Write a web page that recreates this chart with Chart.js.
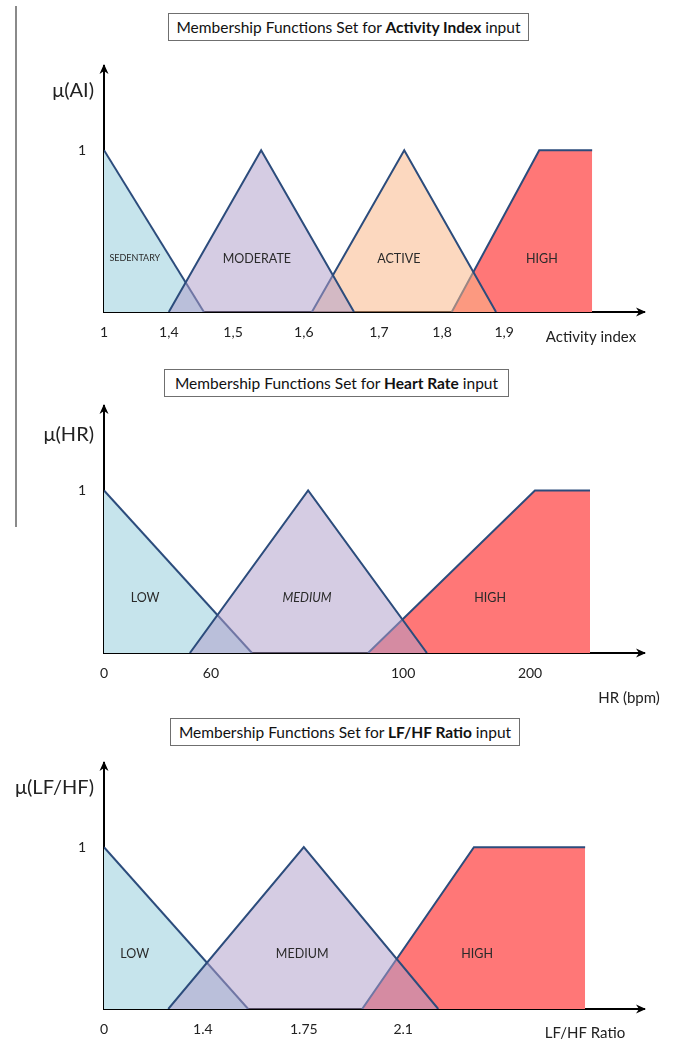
<!DOCTYPE html>
<html>
<head>
<meta charset="utf-8">
<script src="https://cdn.jsdelivr.net/npm/chart.js@4.4.1/dist/chart.umd.min.js"></script>
<style>
  body { margin: 0; background: #fff; font-family: Lato, sans-serif; }
  #page { position: relative; width: 676px; height: 1044px; overflow: hidden; }
  canvas { position: absolute; left: 0; }
  .titre { position: absolute; border: 1px solid #6f6f6f; box-sizing: border-box; height: 28px; line-height: 26px;
           text-align: center; font-size: 15.5px; color: #111; white-space: nowrap; background: #fff; z-index: 2 }
  #bord { position: absolute; left: 15px; top: 6px; width: 2px; height: 521px; background: #8a8a8a }
</style>
</head>
<body>
<div id="page">
  <div id="bord"></div>
  <div class="titre" style="left:168px;top:13px;width:361px">Membership Functions Set for <b>Activity Index</b> input</div>
  <div class="titre" style="left:164px;top:369px;width:345px">Membership Functions Set for <b>Heart Rate</b> input</div>
  <div class="titre" style="left:170px;top:718px;width:350px">Membership Functions Set for <b>LF/HF Ratio</b> input</div>
  <canvas id="c1" width="676" height="350" style="top:0px"></canvas>
  <canvas id="c2" width="676" height="360" style="top:350px"></canvas>
  <canvas id="c3" width="676" height="334" style="top:710px"></canvas>
</div>
<script>
// x axis is a schematic axis: 0 = vertical axis, 100 = arrow tip
// Activity index
let aiTickPos = [0, 12, 23.9, 37, 50.9, 62.6, 74.1]
let aiTickLabels = ['1', '1,4', '1,5', '1,6', '1,7', '1,8', '1,9']
let aiNames = ['SEDENTARY', 'MODERATE', 'ACTIVE', 'HIGH']
let aiSedentary = [[0, 1], [18.5, 0]]
let aiModerate = [[12, 0], [29.1, 1], [46.3, 0]]
let aiActive = [[38.5, 0], [55.6, 1], [72.6, 0]]
let aiHigh = [[64.4, 0], [80.6, 1], [90.4, 1]]

// Heart rate
let hrTickPos = [0, 19.8, 55.4, 78.9]
let hrTickLabels = ['0', '60', '100', '200']
let hrNames = ['LOW', 'MEDIUM', 'HIGH']
let hrLow = [[0, 1], [27.4, 0]]
let hrMedium = [[15.9, 0], [37.8, 1], [59.8, 0]]
let hrHigh = [[48.9, 0], [79.8, 1], [90, 1]]

// LF/HF ratio
let lfTickPos = [0, 18.3, 37, 55.4]
let lfTickLabels = ['0', '1.4', '1.75', '2.1']
let lfNames = ['LOW', 'MEDIUM', 'HIGH']
let lfLow = [[0, 1], [26.7, 0]]
let lfMedium = [[11.9, 0], [37, 1], [61.9, 0]]
let lfHigh = [[47.8, 0], [68.5, 1], [89.1, 1]]

let ligne = '#2c4c7c'
let bleu = '#c6e4ec'
let violet = 'rgba(174,157,201,0.52)'
let peche = 'rgba(249,183,136,0.54)'
let rouge = '#ff7777'

Chart.defaults.font.family = 'Lato, sans-serif'

// one dataset = one membership function, filled down to 0
function jeu(label, pts, fond, ordre) {
  return {
    label: label,
    data: pts.map(p => ({ x: p[0], y: p[1] })),
    fill: 'origin',
    backgroundColor: fond,
    borderColor: ligne,
    borderWidth: 2,
    pointRadius: 0,
    tension: 0,
    order: ordre
  }
}

// arrows, axis titles and the names inside the shapes
let decor = {
  id: 'decor',
  afterDraw(chart, args, o) {
    let ctx = chart.ctx
    let a = chart.chartArea
    let x = chart.scales.x
    let y = chart.scales.y
    ctx.save()
    ctx.fillStyle = '#000'
    ctx.beginPath()
    ctx.moveTo(a.left, a.top - 2)
    ctx.lineTo(a.left - 4.5, a.top + 8)
    ctx.lineTo(a.left, a.top + 5)
    ctx.lineTo(a.left + 4.5, a.top + 8)
    ctx.closePath()
    ctx.fill()
    ctx.beginPath()
    ctx.moveTo(a.right + 2, a.bottom)
    ctx.lineTo(a.right - 8, a.bottom - 4.5)
    ctx.lineTo(a.right - 5, a.bottom)
    ctx.lineTo(a.right - 8, a.bottom + 4.5)
    ctx.closePath()
    ctx.fill()

    ctx.fillStyle = '#222'
    ctx.textBaseline = 'middle'
    ctx.textAlign = 'right'
    ctx.font = '20px Lato, sans-serif'
    ctx.fillText(o.yTitle, a.left - 10, a.top + o.yTitleDy)
    ctx.textAlign = 'center'
    ctx.font = '15px Lato, sans-serif'
    ctx.fillText(o.xTitle, o.xTitleX, a.bottom + o.xTitleDy)

    ctx.fillStyle = '#2a2a2a'
    o.names.forEach((n, i) => {
      let taille = o.sizes ? o.sizes[i] : 12.5
      ctx.font = (o.italic && o.italic[i] ? 'italic ' : '') + taille + 'px Lato, sans-serif'
      ctx.fillText(n, x.getPixelForValue(o.nameX[i]), y.getPixelForValue(o.nameY))
    })
    ctx.restore()
  }
}

function graphe(id, sets, tickPos, tickLabels, pad, deco) {
  return new Chart(document.getElementById(id), {
    type: 'line',
    data: { datasets: sets },
    options: {
      responsive: false,
      animation: false,
      layout: { padding: pad },
      plugins: { legend: { display: false }, tooltip: { enabled: false }, decor: deco },
      scales: {
        x: {
          type: 'linear', min: 0, max: 100,
          grid: { display: false, drawTicks: false },
          border: { display: true, color: '#000', width: 2 },
          afterFit: s => { s.height = 30 },
          afterBuildTicks: s => { s.ticks = tickPos.map(v => ({ value: v })) },
          ticks: {
            autoSkip: false, maxRotation: 0, padding: 12, color: '#222',
            font: { size: 14 },
            callback: (v, i) => tickLabels[i]
          }
        },
        y: {
          min: 0, max: 1.52,
          grid: { display: false, drawTicks: false },
          border: { display: true, color: '#000', width: 2 },
          afterFit: s => { s.width = 40 },
          afterBuildTicks: s => { s.ticks = [{ value: 1 }] },
          ticks: { padding: 18, color: '#222', font: { size: 14 }, callback: () => '1' }
        }
      }
    },
    plugins: [decor]
  })
}

graphe('c1', [
  jeu('MODERATE', aiModerate, violet, 0),
  jeu('ACTIVE', aiActive, peche, 1),
  jeu('SEDENTARY', aiSedentary, bleu, 2),
  jeu('HIGH', aiHigh, rouge, 3)
], aiTickPos, aiTickLabels, { left: 64, right: 32, top: 66, bottom: 8 }, {
  yTitle: 'μ(AI)', yTitleDy: 25, xTitle: 'Activity index', xTitleX: 591, xTitleDy: 25,
  names: aiNames, nameX: [5.7, 28.3, 54.6, 81.1], nameY: 0.33, sizes: [9, 12.5, 12.5, 12.5]
})

graphe('c2', [
  jeu('MEDIUM', hrMedium, violet, 0),
  jeu('LOW', hrLow, bleu, 1),
  jeu('HIGH', hrHigh, rouge, 2)
], hrTickPos, hrTickLabels, { left: 64, right: 32, top: 56, bottom: 27 }, {
  yTitle: 'μ(HR)', yTitleDy: 29, xTitle: 'HR (bpm)', xTitleX: 629, xTitleDy: 45,
  names: hrNames, nameX: [7.6, 37.6, 71.5], nameY: 0.34, italic: [false, true, false]
})

graphe('c3', [
  jeu('MEDIUM', lfMedium, violet, 0),
  jeu('LOW', lfLow, bleu, 1),
  jeu('HIGH', lfHigh, rouge, 2)
], lfTickPos, lfTickLabels, { left: 64, right: 32, top: 53, bottom: 5 }, {
  yTitle: 'μ(LF/HF)', yTitleDy: 25, xTitle: 'LF/HF Ratio', xTitleX: 585, xTitleDy: 24,
  names: lfNames, nameX: [5.7, 36.7, 69.1], nameY: 0.34
})
</script>
</body>
</html>
